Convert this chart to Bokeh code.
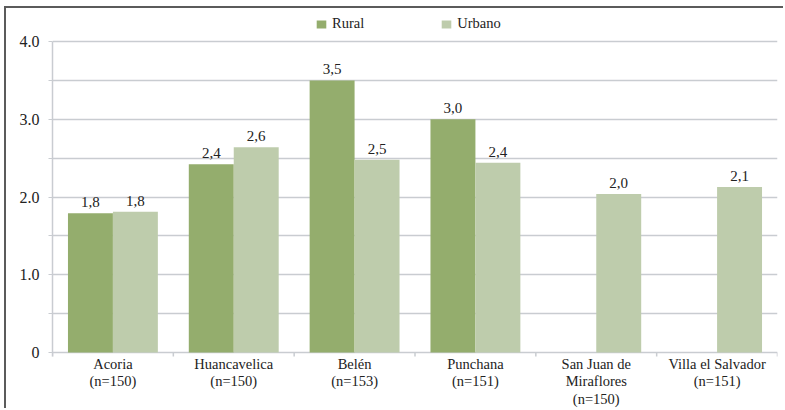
import numpy as np
from bokeh.plotting import figure
from bokeh.models import (ColumnDataSource, Range1d, FixedTicker, Legend, LegendItem,
                          LinearAxis, Grid)
from bokeh.core.properties import value
from bokeh.embed import file_html
from bokeh.resources import INLINE

categories = ["Acoria\n(n=150)", "Huancavelica\n(n=150)", "Belén\n(n=153)",
              "Punchana\n(n=151)", "San Juan de\nMiraflores\n(n=150)", "Villa el Salvador\n(n=151)"]
rural = [1.79, 2.42, 3.50, 3.00, None, None]
urbano = [1.81, 2.64, 2.48, 2.44, 2.04, 2.13]
y_labels = {4.0: "4.0", 3.0: "3.0", 2.0: "2.0", 1.0: "1.0", 0.0: "0"}

FONT = "Liberation Serif"
C_RURAL = "#94AD6D"
C_URB = "#BECCAC"
GRID = "#C9CCD1"
TXT = "#222222"

n = len(categories)
centers = np.arange(n) + 0.5
bounds = np.arange(n + 1)
bw = 0.372
PX = 77.75            # pixels per y unit (frame 4.0 -> 0 spans 311 px)
tick_len = 4 / PX

def fmt(v):
    return "" if v is None else f"{v:.1f}".replace(".", ",")

r_idx = [i for i, v in enumerate(rural) if v is not None]
src_r = ColumnDataSource(dict(x=[float(centers[i] - bw / 2) for i in r_idx],
                              top=[rural[i] for i in r_idx],
                              lab=[fmt(rural[i]) for i in r_idx]))
src_u = ColumnDataSource(dict(x=[float(c + bw / 2) for c in centers], top=urbano,
                              lab=[fmt(v) for v in urbano]))
src_cat = ColumnDataSource(dict(x=[float(c) for c in centers], y=[0.0] * n, text=categories))
src_tk = ColumnDataSource(dict(x=[float(b) for b in bounds], y0=[0.0] * (n + 1),
                               y1=[-tick_len] * (n + 1)))

p = figure(width=779, height=402, output_backend="svg", toolbar_location=None,
           x_range=Range1d(0, n), y_range=Range1d(-58 / PX, 4 + 27 / PX),
           x_axis_type=None, y_axis_type=None,
           min_border_left=46, min_border_right=8, min_border_top=6, min_border_bottom=0)
p.styles = {"margin-left": "4px", "margin-top": "6px",
            "border-top": "2px solid #5b5b5b", "border-left": "2px solid #5b5b5b"}
p.outline_line_color = None

# y axis
yax = LinearAxis(ticker=FixedTicker(ticks=[0, 0.5, 1, 1.5, 2, 2.5, 3, 3.5, 4]), bounds=(-tick_len, 4))
yax.major_label_overrides = {**{t: " " for t in [0.5, 1.5, 2.5, 3.5]}, **y_labels}
yax.axis_line_color = GRID
yax.axis_line_width = 1.5
yax.major_tick_line_color = GRID
yax.major_tick_out = 4
yax.major_tick_in = 0
yax.minor_tick_line_color = None
yax.major_label_text_font = FONT
yax.major_label_text_font_size = "16px"
yax.major_label_text_color = TXT
yax.major_label_standoff = 9
p.add_layout(yax, "left")

g = Grid(dimension=1, ticker=FixedTicker(ticks=[0, 0.5, 1, 1.5, 2, 2.5, 3, 3.5, 4]),
         grid_line_color=GRID, grid_line_width=1.5)
p.add_layout(g)

# category boundary ticks under the baseline
p.segment(x0="x", y0="y0", x1="x", y1="y1", source=src_tk, line_color=GRID, line_width=1.5)

rr = p.vbar(x="x", top="top", width=bw, source=src_r, fill_color=C_RURAL, line_color=None)
ru = p.vbar(x="x", top="top", width=bw, source=src_u, fill_color=C_URB, line_color=None)

for src in (src_r, src_u):
    p.text(x="x", y="top", text="lab", source=src, text_align="center",
           text_baseline="bottom", y_offset=-6, text_font=value(FONT),
           text_font_size="15px", text_color=TXT)

p.text(x="x", y="y", text="text", source=src_cat, text_align="center",
       text_baseline="top", y_offset=3, text_font=value(FONT),
       text_font_size="14.5px", text_color=TXT, text_line_height=1.12)

legend = Legend(items=[LegendItem(label="Rural", renderers=[rr]),
                       LegendItem(label="Urbano", renderers=[ru])],
                orientation="horizontal", location=(263, 378),
                label_text_font=FONT, label_text_font_size="14.5px", label_text_color=TXT,
                glyph_width=12, glyph_height=10, label_height=14, label_standoff=5, spacing=76,
                padding=0, margin=0, border_line_color=None, background_fill_alpha=0)
p.add_layout(legend, "center")

open("out.html", "w").write(file_html(p, INLINE))
